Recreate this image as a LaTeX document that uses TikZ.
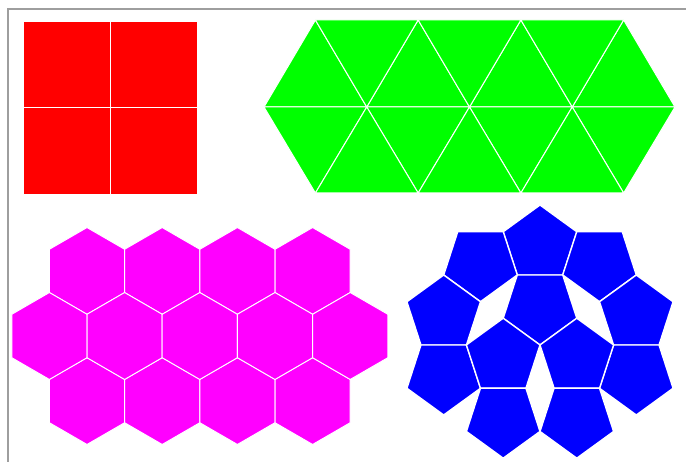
\documentclass[tikz,border=0pt]{standalone}
\begin{document}
\begin{tikzpicture}[x=1pt,y=-1pt,
  frameline/.style={draw=black!38,line width=2pt},
  sq/.style={fill={rgb,255:red,255;green,0;blue,0},draw=white,line width=1pt},
  tri/.style={fill={rgb,255:red,0;green,255;blue,0},draw=white,line width=1pt,line join=round},
  hexa/.style={fill={rgb,255:red,255;green,0;blue,255},draw=white,line width=1pt},
  pent/.style={fill={rgb,255:red,0;green,0;blue,255},draw=white,line width=1.4pt}]
\useasboundingbox (0,0) rectangle (686,462);
\fill[white] (0,0) rectangle (686,462);
% frame
\draw[frameline] (8,462) -- (8,9.5) -- (686,9.5);
% squares
\foreach \x/\y in {23/22,110/22,23/108,110/108}
  \path[sq] (\x,\y) rectangle +(87,87);
% triangles
\def\dx{102.75}
\foreach \k in {0,1,2,3}{
  \path[tri] ({264+\k*\dx},107) -- ({315.4+\k*\dx},20) -- ({264+(\k+1)*\dx},107) -- cycle;
  \path[tri] ({264+\k*\dx},107) -- ({315.4+\k*\dx},193) -- ({264+(\k+1)*\dx},107) -- cycle;
}
\foreach \k in {0,1,2}{
  \path[tri] ({315.4+\k*\dx},20) -- ({315.4+(\k+1)*\dx},20) -- ({264+(\k+1)*\dx},107) -- cycle;
  \path[tri] ({315.4+\k*\dx},193) -- ({315.4+(\k+1)*\dx},193) -- ({264+(\k+1)*\dx},107) -- cycle;
}
% hexagons
\def\hexat#1#2{\path[hexa] (#1,#2) +(0,-43.5) -- +(37.6,-21.75) -- +(37.6,21.75) -- +(0,43.5) -- +(-37.6,21.75) -- +(-37.6,-21.75) -- cycle;}
\foreach \k in {0,1,2,3}{
  \hexat{87+\k*75.2}{271}
  \hexat{87+\k*75.2}{401}
}
\foreach \k in {0,1,2,3,4}{
  \hexat{49.4+\k*75.2}{336}
}
% pentagons
\foreach \cx/\cy/\o in {540/243.7/-90, 540/306.3/90, 480.5/263.0/90, 599.5/263.0/90,
   443.7/313.7/-90, 636.3/313.7/-90, 443.7/376.3/90, 636.3/376.3/90,
   503.2/356.9/-90, 576.8/356.9/-90, 503.2/419.5/90, 576.8/419.5/90}
  \path[pent] (\cx,\cy) +(\o:38.7) -- +(\o+72:38.7) -- +(\o+144:38.7) -- +(\o+216:38.7) -- +(\o+288:38.7) -- cycle;
\end{tikzpicture}
\end{document}
